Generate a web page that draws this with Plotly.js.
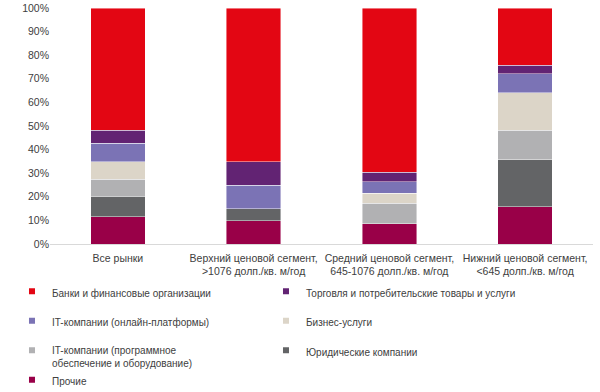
<!DOCTYPE html>
<html><head><meta charset="utf-8">
<script src="https://cdn.plot.ly/plotly-3.0.1.min.js"></script>
<style>html,body{margin:0;padding:0;background:#fff}#chart{width:600px;height:392px}</style>
</head><body><div id="chart"></div>
<script>
const categories = ["Все рынки", "Верхний ценовой сегмент,<br>>1076 долп./кв. м/год", "Средний ценовой сегмент,<br>645-1076 долп./кв. м/год", "Нижний ценовой сегмент,<br><645 долп./кв. м/год"];
const seriesNames = ["Прочие", "Юридические компании", "IT-компании (программное<br>обеспечение и оборудование)", "Бизнес-услуги", "IT-компании (онлайн-платформы)", "Торговля и потребительские товары и услуги", "Банки и финансовые организации"];
const other    = [11.5, 9.9, 8.6, 15.8];
const legal    = [8.8, 5.1, 0, 19.9];
const itSoft   = [7.2, 0, 8.6, 12.4];
const business = [7.4, 0, 4.4, 15.9];
const itOnline = [7.8, 10.0, 4.7, 8.2];
const trade    = [5.6, 9.9, 4.2, 3.6];
const banks    = [51.7, 65.1, 69.5, 24.2];
const colors = ["#990048", "#636466", "#B1B1B3", "#DCD5C8", "#7B73B5", "#622373", "#E30613"];
const tickVals = [0,10,20,30,40,50,60,70,80,90,100];
const tickText = ["0%","10%","20%","30%","40%","50%","60%","70%","80%","90%","100%"];

const series = [other, legal, itSoft, business, itOnline, trade, banks];
const legendOf = ["legend4", "legend3", "legend3", "legend2", "legend2", "legend", "legend"];
const traces = [];
series.forEach((vals, i) => {
  traces.push({type:'bar', x:categories, y:vals, name:seriesNames[i], showlegend:false,
    marker:{color:colors[i], line:{color:'rgba(255,255,255,0.55)', width:0.8}}, hoverinfo:'y+name'});
});
// legend entries in row-major order
const legendOrder = [6,5,4,3,2,1,0];
legendOrder.forEach(i => {
  traces.push({type:'scatter', mode:'markers', x:[null], y:[null], name:seriesNames[i],
    legend:legendOf[i], marker:{symbol:'square', size:6, color:colors[i]}, showlegend:true});
});
const lfont = {family:'Liberation Sans, Arial, sans-serif', size:10, color:'#404040'};
const mkLegend = (y, x) => ({orientation:'h', x:x, xanchor:'left', y:y, yanchor:'top', entrywidth:209, entrywidthmode:'pixels', font:lfont, bgcolor:'rgba(0,0,0,0)', itemwidth:30, valign:'top', traceorder:'normal', tracegroupgap:0});
const layout = {
  width:600, height:392,
  margin:{l:50, r:7, t:8, b:148, autoexpand:false},
  paper_bgcolor:'#fff', plot_bgcolor:'#fff',
  barmode:'stack', bargap:0.6,
  font:{family:'Liberation Sans, Arial, sans-serif', size:10, color:'#404040'},
  xaxis:{showgrid:false, showline:true, linecolor:'#d9d9d9', linewidth:1, ticks:'outside', ticklen:4, tickcolor:'rgba(0,0,0,0)', tickfont:{size:10.5, color:'#404040'}, fixedrange:true},
  yaxis:{range:[0,100], tickvals:tickVals, ticktext:tickText, showgrid:false, zeroline:false, showline:false, ticks:'', tickfont:{size:10.5, color:'#404040'}, fixedrange:true},
  legend: mkLegend(-0.145, -0.07),
  legend2: mkLegend(-0.27, -0.07),
  legend3: mkLegend(-0.395, -0.07),
  legend4: mkLegend(-0.52, -0.07),
  showlegend:true
};
Plotly.newPlot('chart', traces, layout, {displayModeBar:false, staticPlot:true});
</script></body></html>
